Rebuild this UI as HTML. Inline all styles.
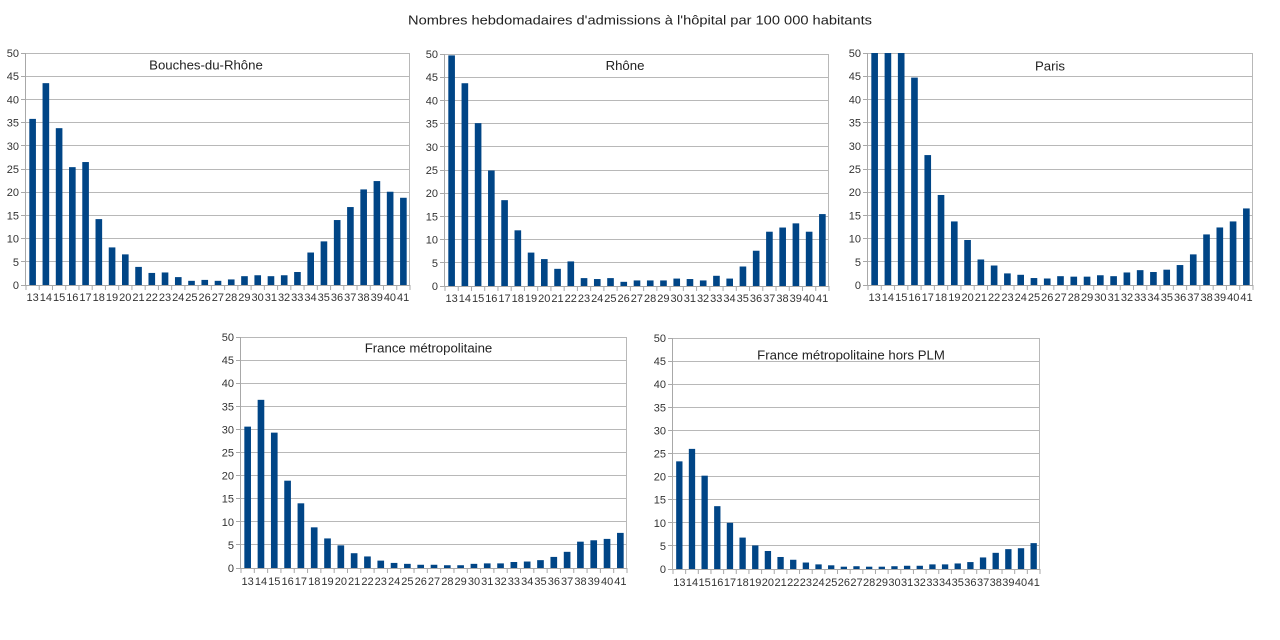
<!DOCTYPE html>
<html><head><meta charset="utf-8"><style>
html,body{margin:0;padding:0;background:#fff;}
#wrap{position:relative;width:1280px;height:640px;overflow:hidden;background:#fff;font-family:"Liberation Sans",Arial,sans-serif;}
svg{position:absolute;left:0;top:0;}
.xl{position:absolute;display:flex;height:13px;line-height:13px;font-size:11px;color:#333;}
.xl span{flex:1 1 0;min-width:0;text-align:center;white-space:nowrap;overflow:visible;display:flex;justify-content:center;}
</style></head><body><div id="wrap">
<svg width="1280" height="640" viewBox="0 0 1280 640" xmlns="http://www.w3.org/2000/svg" font-family="Liberation Sans, Arial, sans-serif">
<rect width="1280" height="640" fill="#fff"/>
<text x="640" y="24.5" text-anchor="middle" font-size="13" fill="#222" textLength="464" lengthAdjust="spacingAndGlyphs">Nombres hebdomadaires d'admissions à l'hôpital par 100 000 habitants</text>

<!-- Chart 1 : x0=26 x1=410 top=53 bot=285 -->
<g fill="none" stroke-width="1">
<path stroke="#b8b8b8" d="M26 53.5H410M26 76.5H410M26 99.5H410M26 122.5H410M26 145.5H410M26 169.5H410M26 192.5H410M26 215.5H410M26 238.5H410M26 261.5H410M409.5 53V285"/>
<path stroke="#a8a8a8" d="M25.5 53V285.5M26 285.5H410M21 53.5H26M21 76.5H26M21 99.5H26M21 122.5H26M21 145.5H26M21 169.5H26M21 192.5H26M21 215.5H26M21 238.5H26M21 261.5H26M21 285.5H26"/>
</g>
<g transform="translate(26,285) scale(13.2414,-4.64)">
<g fill="#004586">
<rect x="0.25" width="0.5" height="35.8"/><rect x="1.25" width="0.5" height="43.5"/><rect x="2.25" width="0.5" height="33.8"/><rect x="3.25" width="0.5" height="25.4"/><rect x="4.25" width="0.5" height="26.5"/><rect x="5.25" width="0.5" height="14.2"/><rect x="6.25" width="0.5" height="8.1"/><rect x="7.25" width="0.5" height="6.6"/><rect x="8.25" width="0.5" height="3.9"/><rect x="9.25" width="0.5" height="2.6"/><rect x="10.25" width="0.5" height="2.7"/><rect x="11.25" width="0.5" height="1.7"/><rect x="12.25" width="0.5" height="0.9"/><rect x="13.25" width="0.5" height="1.1"/><rect x="14.25" width="0.5" height="0.9"/><rect x="15.25" width="0.5" height="1.2"/><rect x="16.25" width="0.5" height="1.9"/><rect x="17.25" width="0.5" height="2.1"/><rect x="18.25" width="0.5" height="1.9"/><rect x="19.25" width="0.5" height="2.1"/><rect x="20.25" width="0.5" height="2.8"/><rect x="21.25" width="0.5" height="7.0"/><rect x="22.25" width="0.5" height="9.4"/><rect x="23.25" width="0.5" height="14.0"/><rect x="24.25" width="0.5" height="16.8"/><rect x="25.25" width="0.5" height="20.6"/><rect x="26.25" width="0.5" height="22.4"/><rect x="27.25" width="0.5" height="20.1"/><rect x="28.25" width="0.5" height="18.8"/>
</g>
<path fill="none" stroke="#a8a8a8" stroke-width="1" vector-effect="non-scaling-stroke" d="M0 0V-1.08M1 0V-1.08M2 0V-1.08M3 0V-1.08M4 0V-1.08M5 0V-1.08M6 0V-1.08M7 0V-1.08M8 0V-1.08M9 0V-1.08M10 0V-1.08M11 0V-1.08M12 0V-1.08M13 0V-1.08M14 0V-1.08M15 0V-1.08M16 0V-1.08M17 0V-1.08M18 0V-1.08M19 0V-1.08M20 0V-1.08M21 0V-1.08M22 0V-1.08M23 0V-1.08M24 0V-1.08M25 0V-1.08M26 0V-1.08M27 0V-1.08M28 0V-1.08M29 0V-1.08"/>
</g>
<g font-size="11" fill="#333" text-anchor="end">
<text x="19" y="289">0</text><text x="19" y="265.8">5</text><text x="19" y="242.6">10</text><text x="19" y="219.4">15</text><text x="19" y="196.2">20</text><text x="19" y="173">25</text><text x="19" y="149.8">30</text><text x="19" y="126.6">35</text><text x="19" y="103.4">40</text><text x="19" y="80.2">45</text><text x="19" y="57">50</text>
</g>
<text x="206" y="69.5" text-anchor="middle" font-size="13.2" fill="#222">Bouches-du-Rhône</text>

<!-- Chart 2 : x0=445 x1=829 top=54 bot=286 -->
<g fill="none" stroke-width="1">
<path stroke="#b8b8b8" d="M445 54.5H829M445 77.5H829M445 100.5H829M445 123.5H829M445 146.5H829M445 170.5H829M445 193.5H829M445 216.5H829M445 239.5H829M445 262.5H829M828.5 54V286"/>
<path stroke="#a8a8a8" d="M444.5 54V286.5M445 286.5H829M440 54.5H445M440 77.5H445M440 100.5H445M440 123.5H445M440 146.5H445M440 170.5H445M440 193.5H445M440 216.5H445M440 239.5H445M440 262.5H445M440 286.5H445"/>
</g>
<g transform="translate(445,286) scale(13.2414,-4.64)">
<g fill="#004586">
<rect x="0.25" width="0.5" height="49.7"/><rect x="1.25" width="0.5" height="43.7"/><rect x="2.25" width="0.5" height="35.1"/><rect x="3.25" width="0.5" height="24.9"/><rect x="4.25" width="0.5" height="18.5"/><rect x="5.25" width="0.5" height="12.0"/><rect x="6.25" width="0.5" height="7.2"/><rect x="7.25" width="0.5" height="5.8"/><rect x="8.25" width="0.5" height="3.7"/><rect x="9.25" width="0.5" height="5.3"/><rect x="10.25" width="0.5" height="1.7"/><rect x="11.25" width="0.5" height="1.5"/><rect x="12.25" width="0.5" height="1.7"/><rect x="13.25" width="0.5" height="0.9"/><rect x="14.25" width="0.5" height="1.2"/><rect x="15.25" width="0.5" height="1.2"/><rect x="16.25" width="0.5" height="1.2"/><rect x="17.25" width="0.5" height="1.6"/><rect x="18.25" width="0.5" height="1.5"/><rect x="19.25" width="0.5" height="1.2"/><rect x="20.25" width="0.5" height="2.2"/><rect x="21.25" width="0.5" height="1.6"/><rect x="22.25" width="0.5" height="4.2"/><rect x="23.25" width="0.5" height="7.6"/><rect x="24.25" width="0.5" height="11.7"/><rect x="25.25" width="0.5" height="12.6"/><rect x="26.25" width="0.5" height="13.5"/><rect x="27.25" width="0.5" height="11.7"/><rect x="28.25" width="0.5" height="15.5"/>
</g>
<path fill="none" stroke="#a8a8a8" stroke-width="1" vector-effect="non-scaling-stroke" d="M0 0V-1.08M1 0V-1.08M2 0V-1.08M3 0V-1.08M4 0V-1.08M5 0V-1.08M6 0V-1.08M7 0V-1.08M8 0V-1.08M9 0V-1.08M10 0V-1.08M11 0V-1.08M12 0V-1.08M13 0V-1.08M14 0V-1.08M15 0V-1.08M16 0V-1.08M17 0V-1.08M18 0V-1.08M19 0V-1.08M20 0V-1.08M21 0V-1.08M22 0V-1.08M23 0V-1.08M24 0V-1.08M25 0V-1.08M26 0V-1.08M27 0V-1.08M28 0V-1.08M29 0V-1.08"/>
</g>
<g font-size="11" fill="#333" text-anchor="end">
<text x="438" y="290">0</text><text x="438" y="266.8">5</text><text x="438" y="243.6">10</text><text x="438" y="220.4">15</text><text x="438" y="197.2">20</text><text x="438" y="174">25</text><text x="438" y="150.8">30</text><text x="438" y="127.6">35</text><text x="438" y="104.4">40</text><text x="438" y="81.2">45</text><text x="438" y="58">50</text>
</g>
<text x="625" y="70" text-anchor="middle" font-size="13.2" fill="#222">Rhône</text>

<!-- Chart 3 : x0=868 x1=1253 top=53 bot=285 -->
<g fill="none" stroke-width="1">
<path stroke="#b8b8b8" d="M868 53.5H1253M868 76.5H1253M868 99.5H1253M868 122.5H1253M868 145.5H1253M868 169.5H1253M868 192.5H1253M868 215.5H1253M868 238.5H1253M868 261.5H1253M1252.5 53V285"/>
<path stroke="#a8a8a8" d="M867.5 53V285.5M868 285.5H1253M863 53.5H868M863 76.5H868M863 99.5H868M863 122.5H868M863 145.5H868M863 169.5H868M863 192.5H868M863 215.5H868M863 238.5H868M863 261.5H868M863 285.5H868"/>
</g>
<g transform="translate(868,285) scale(13.2759,-4.64)">
<g fill="#004586">
<rect x="0.25" width="0.5" height="50"/><rect x="1.25" width="0.5" height="50"/><rect x="2.25" width="0.5" height="50"/><rect x="3.25" width="0.5" height="44.7"/><rect x="4.25" width="0.5" height="28.0"/><rect x="5.25" width="0.5" height="19.4"/><rect x="6.25" width="0.5" height="13.7"/><rect x="7.25" width="0.5" height="9.7"/><rect x="8.25" width="0.5" height="5.5"/><rect x="9.25" width="0.5" height="4.2"/><rect x="10.25" width="0.5" height="2.5"/><rect x="11.25" width="0.5" height="2.2"/><rect x="12.25" width="0.5" height="1.5"/><rect x="13.25" width="0.5" height="1.4"/><rect x="14.25" width="0.5" height="1.9"/><rect x="15.25" width="0.5" height="1.8"/><rect x="16.25" width="0.5" height="1.8"/><rect x="17.25" width="0.5" height="2.1"/><rect x="18.25" width="0.5" height="1.9"/><rect x="19.25" width="0.5" height="2.7"/><rect x="20.25" width="0.5" height="3.2"/><rect x="21.25" width="0.5" height="2.8"/><rect x="22.25" width="0.5" height="3.3"/><rect x="23.25" width="0.5" height="4.3"/><rect x="24.25" width="0.5" height="6.6"/><rect x="25.25" width="0.5" height="10.9"/><rect x="26.25" width="0.5" height="12.4"/><rect x="27.25" width="0.5" height="13.7"/><rect x="28.25" width="0.5" height="16.5"/>
</g>
<path fill="none" stroke="#a8a8a8" stroke-width="1" vector-effect="non-scaling-stroke" d="M0 0V-1.08M1 0V-1.08M2 0V-1.08M3 0V-1.08M4 0V-1.08M5 0V-1.08M6 0V-1.08M7 0V-1.08M8 0V-1.08M9 0V-1.08M10 0V-1.08M11 0V-1.08M12 0V-1.08M13 0V-1.08M14 0V-1.08M15 0V-1.08M16 0V-1.08M17 0V-1.08M18 0V-1.08M19 0V-1.08M20 0V-1.08M21 0V-1.08M22 0V-1.08M23 0V-1.08M24 0V-1.08M25 0V-1.08M26 0V-1.08M27 0V-1.08M28 0V-1.08M29 0V-1.08"/>
</g>
<g font-size="11" fill="#333" text-anchor="end">
<text x="861" y="289">0</text><text x="861" y="265.8">5</text><text x="861" y="242.6">10</text><text x="861" y="219.4">15</text><text x="861" y="196.2">20</text><text x="861" y="173">25</text><text x="861" y="149.8">30</text><text x="861" y="126.6">35</text><text x="861" y="103.4">40</text><text x="861" y="80.2">45</text><text x="861" y="57">50</text>
</g>
<text x="1050" y="70.5" text-anchor="middle" font-size="13.2" fill="#222">Paris</text>

<!-- Chart 4 : x0=241 x1=627 top=337 bot=568 -->
<g fill="none" stroke-width="1">
<path stroke="#b8b8b8" d="M241 337.5H627M241 360.5H627M241 383.5H627M241 406.5H627M241 429.5H627M241 452.5H627M241 475.5H627M241 498.5H627M241 521.5H627M241 544.5H627M626.5 337V568"/>
<path stroke="#a8a8a8" d="M240.5 337V568.5M241 568.5H627M236 337.5H241M236 360.5H241M236 383.5H241M236 406.5H241M236 429.5H241M236 452.5H241M236 475.5H241M236 498.5H241M236 521.5H241M236 544.5H241M236 568.5H241"/>
</g>
<g transform="translate(241,568) scale(13.3103,-4.62)">
<g fill="#004586">
<rect x="0.25" width="0.5" height="30.6"/><rect x="1.25" width="0.5" height="36.4"/><rect x="2.25" width="0.5" height="29.3"/><rect x="3.25" width="0.5" height="18.9"/><rect x="4.25" width="0.5" height="14.0"/><rect x="5.25" width="0.5" height="8.8"/><rect x="6.25" width="0.5" height="6.4"/><rect x="7.25" width="0.5" height="4.9"/><rect x="8.25" width="0.5" height="3.2"/><rect x="9.25" width="0.5" height="2.5"/><rect x="10.25" width="0.5" height="1.6"/><rect x="11.25" width="0.5" height="1.1"/><rect x="12.25" width="0.5" height="0.9"/><rect x="13.25" width="0.5" height="0.7"/><rect x="14.25" width="0.5" height="0.7"/><rect x="15.25" width="0.5" height="0.6"/><rect x="16.25" width="0.5" height="0.6"/><rect x="17.25" width="0.5" height="0.9"/><rect x="18.25" width="0.5" height="1.0"/><rect x="19.25" width="0.5" height="1.0"/><rect x="20.25" width="0.5" height="1.3"/><rect x="21.25" width="0.5" height="1.4"/><rect x="22.25" width="0.5" height="1.7"/><rect x="23.25" width="0.5" height="2.4"/><rect x="24.25" width="0.5" height="3.5"/><rect x="25.25" width="0.5" height="5.7"/><rect x="26.25" width="0.5" height="6.0"/><rect x="27.25" width="0.5" height="6.3"/><rect x="28.25" width="0.5" height="7.6"/>
</g>
<path fill="none" stroke="#a8a8a8" stroke-width="1" vector-effect="non-scaling-stroke" d="M0 0V-1.08M1 0V-1.08M2 0V-1.08M3 0V-1.08M4 0V-1.08M5 0V-1.08M6 0V-1.08M7 0V-1.08M8 0V-1.08M9 0V-1.08M10 0V-1.08M11 0V-1.08M12 0V-1.08M13 0V-1.08M14 0V-1.08M15 0V-1.08M16 0V-1.08M17 0V-1.08M18 0V-1.08M19 0V-1.08M20 0V-1.08M21 0V-1.08M22 0V-1.08M23 0V-1.08M24 0V-1.08M25 0V-1.08M26 0V-1.08M27 0V-1.08M28 0V-1.08M29 0V-1.08"/>
</g>
<g font-size="11" fill="#333" text-anchor="end">
<text x="234" y="572">0</text><text x="234" y="548.9">5</text><text x="234" y="525.8">10</text><text x="234" y="502.7">15</text><text x="234" y="479.6">20</text><text x="234" y="456.5">25</text><text x="234" y="433.4">30</text><text x="234" y="410.3">35</text><text x="234" y="387.2">40</text><text x="234" y="364.1">45</text><text x="234" y="341">50</text>
</g>
<text x="428.5" y="352.5" text-anchor="middle" font-size="13.2" fill="#222">France métropolitaine</text>

<!-- Chart 5 : x0=673 x1=1040 top=338 bot=569 -->
<g fill="none" stroke-width="1">
<path stroke="#b8b8b8" d="M673 338.5H1040M673 361.5H1040M673 384.5H1040M673 407.5H1040M673 430.5H1040M673 453.5H1040M673 476.5H1040M673 499.5H1040M673 522.5H1040M673 545.5H1040M1039.5 338V569"/>
<path stroke="#a8a8a8" d="M672.5 338V569.5M673 569.5H1040M668 338.5H673M668 361.5H673M668 384.5H673M668 407.5H673M668 430.5H673M668 453.5H673M668 476.5H673M668 499.5H673M668 522.5H673M668 545.5H673M668 569.5H673"/>
</g>
<g transform="translate(673,569) scale(12.655,-4.62)">
<g fill="#004586">
<rect x="0.25" width="0.5" height="23.3"/><rect x="1.25" width="0.5" height="26.0"/><rect x="2.25" width="0.5" height="20.2"/><rect x="3.25" width="0.5" height="13.6"/><rect x="4.25" width="0.5" height="10.0"/><rect x="5.25" width="0.5" height="6.8"/><rect x="6.25" width="0.5" height="5.1"/><rect x="7.25" width="0.5" height="3.9"/><rect x="8.25" width="0.5" height="2.6"/><rect x="9.25" width="0.5" height="2.0"/><rect x="10.25" width="0.5" height="1.4"/><rect x="11.25" width="0.5" height="1.0"/><rect x="12.25" width="0.5" height="0.8"/><rect x="13.25" width="0.5" height="0.5"/><rect x="14.25" width="0.5" height="0.6"/><rect x="15.25" width="0.5" height="0.5"/><rect x="16.25" width="0.5" height="0.5"/><rect x="17.25" width="0.5" height="0.6"/><rect x="18.25" width="0.5" height="0.7"/><rect x="19.25" width="0.5" height="0.7"/><rect x="20.25" width="0.5" height="1.0"/><rect x="21.25" width="0.5" height="1.0"/><rect x="22.25" width="0.5" height="1.2"/><rect x="23.25" width="0.5" height="1.5"/><rect x="24.25" width="0.5" height="2.5"/><rect x="25.25" width="0.5" height="3.5"/><rect x="26.25" width="0.5" height="4.3"/><rect x="27.25" width="0.5" height="4.5"/><rect x="28.25" width="0.5" height="5.6"/>
</g>
<path fill="none" stroke="#a8a8a8" stroke-width="1" vector-effect="non-scaling-stroke" d="M0 0V-1.08M1 0V-1.08M2 0V-1.08M3 0V-1.08M4 0V-1.08M5 0V-1.08M6 0V-1.08M7 0V-1.08M8 0V-1.08M9 0V-1.08M10 0V-1.08M11 0V-1.08M12 0V-1.08M13 0V-1.08M14 0V-1.08M15 0V-1.08M16 0V-1.08M17 0V-1.08M18 0V-1.08M19 0V-1.08M20 0V-1.08M21 0V-1.08M22 0V-1.08M23 0V-1.08M24 0V-1.08M25 0V-1.08M26 0V-1.08M27 0V-1.08M28 0V-1.08M29 0V-1.08"/>
</g>
<g font-size="11" fill="#333" text-anchor="end">
<text x="666" y="573">0</text><text x="666" y="549.9">5</text><text x="666" y="526.8">10</text><text x="666" y="503.7">15</text><text x="666" y="480.6">20</text><text x="666" y="457.5">25</text><text x="666" y="434.4">30</text><text x="666" y="411.3">35</text><text x="666" y="388.2">40</text><text x="666" y="365.1">45</text><text x="666" y="342">50</text>
</g>
<text x="851" y="359.5" text-anchor="middle" font-size="13.2" fill="#222">France métropolitaine hors PLM</text>
</svg>

<div class="xl" style="left:26px;top:292px;width:384px;"><span>13</span><span>14</span><span>15</span><span>16</span><span>17</span><span>18</span><span>19</span><span>20</span><span>21</span><span>22</span><span>23</span><span>24</span><span>25</span><span>26</span><span>27</span><span>28</span><span>29</span><span>30</span><span>31</span><span>32</span><span>33</span><span>34</span><span>35</span><span>36</span><span>37</span><span>38</span><span>39</span><span>40</span><span>41</span></div>
<div class="xl" style="left:445px;top:293px;width:384px;"><span>13</span><span>14</span><span>15</span><span>16</span><span>17</span><span>18</span><span>19</span><span>20</span><span>21</span><span>22</span><span>23</span><span>24</span><span>25</span><span>26</span><span>27</span><span>28</span><span>29</span><span>30</span><span>31</span><span>32</span><span>33</span><span>34</span><span>35</span><span>36</span><span>37</span><span>38</span><span>39</span><span>40</span><span>41</span></div>
<div class="xl" style="left:868px;top:292px;width:385px;"><span>13</span><span>14</span><span>15</span><span>16</span><span>17</span><span>18</span><span>19</span><span>20</span><span>21</span><span>22</span><span>23</span><span>24</span><span>25</span><span>26</span><span>27</span><span>28</span><span>29</span><span>30</span><span>31</span><span>32</span><span>33</span><span>34</span><span>35</span><span>36</span><span>37</span><span>38</span><span>39</span><span>40</span><span>41</span></div>
<div class="xl" style="left:241px;top:576px;width:386px;"><span>13</span><span>14</span><span>15</span><span>16</span><span>17</span><span>18</span><span>19</span><span>20</span><span>21</span><span>22</span><span>23</span><span>24</span><span>25</span><span>26</span><span>27</span><span>28</span><span>29</span><span>30</span><span>31</span><span>32</span><span>33</span><span>34</span><span>35</span><span>36</span><span>37</span><span>38</span><span>39</span><span>40</span><span>41</span></div>
<div class="xl" style="left:673px;top:577px;width:367px;"><span>13</span><span>14</span><span>15</span><span>16</span><span>17</span><span>18</span><span>19</span><span>20</span><span>21</span><span>22</span><span>23</span><span>24</span><span>25</span><span>26</span><span>27</span><span>28</span><span>29</span><span>30</span><span>31</span><span>32</span><span>33</span><span>34</span><span>35</span><span>36</span><span>37</span><span>38</span><span>39</span><span>40</span><span>41</span></div>
</div></body></html>
